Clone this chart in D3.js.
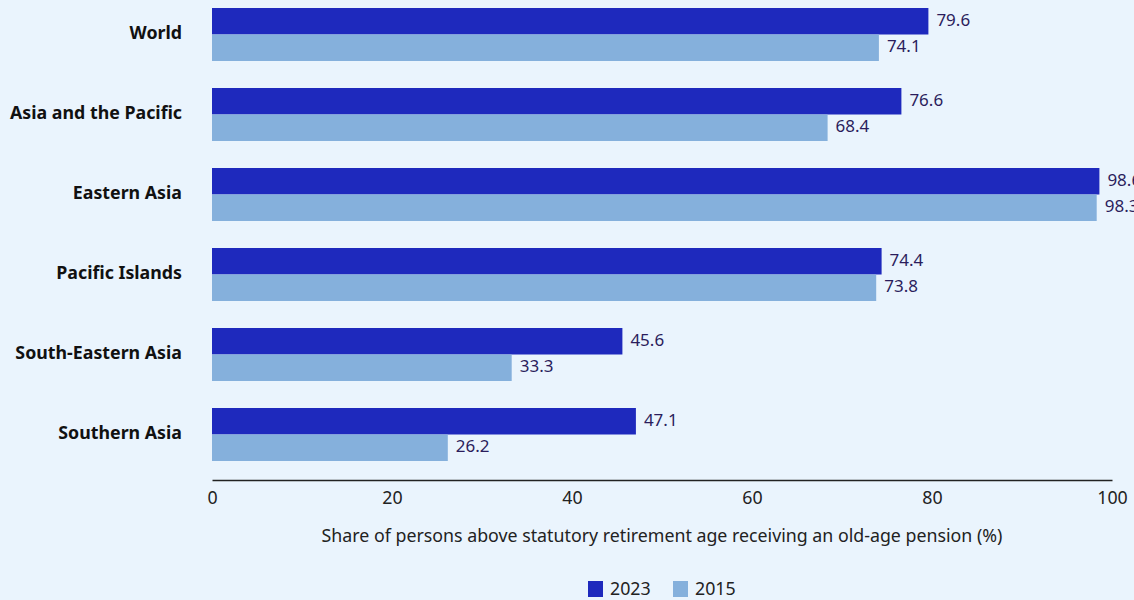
<!DOCTYPE html>
<html lang="en">
	<head>
		<meta charset="utf-8">
		<title>Old-age pension coverage</title>
		<script type="text/javascript" src="https://cdn.jsdelivr.net/npm/d3@7"></script>
		<style>
			body { margin: 0; background: #EAF4FD; }
			text { font-family: "Noto Sans", sans-serif; }
		</style>
	</head>
	<body>
		<script type="text/javascript">

			//
			// Data
			//
			var regions = ["World", "Asia and the Pacific", "Eastern Asia", "Pacific Islands", "South-Eastern Asia", "Southern Asia"];
			var values2023 = [79.6, 76.6, 98.6, 74.4, 45.6, 47.1];
			var values2015 = [74.1, 68.4, 98.3, 73.8, 33.3, 26.2];
			var seriesNames = ["2023", "2015"];
			var xTicks = [0, 20, 40, 60, 80, 100];
			var colors = ["#1E29BD", "#85B0DC"];

			var width = 1134, height = 600;

			var svg = d3.select("body")
				.append("svg")
				.attr("width", width)
				.attr("height", height);

			svg.append("rect")
				.attr("width", width)
				.attr("height", height)
				.attr("fill", "#EAF4FD");

			var x = d3.scaleLinear()
				.domain([0, 100])
				.range([212, 1112]);

			var y = d3.scaleBand()
				.domain(regions)
				.range([8, 461])
				.paddingInner(0.3375)
				.paddingOuter(0);

			var ySub = d3.scaleBand()
				.domain(seriesNames)
				.range([0, y.bandwidth()]);

			var rows = regions.map(function(r, i) {
				return { region: r, values: [
					{ series: "2023", value: values2023[i] },
					{ series: "2015", value: values2015[i] }
				]};
			});

			var group = svg.selectAll("g.region")
				.data(rows)
				.enter()
				.append("g")
				.attr("class", "region")
				.attr("transform", function(d) { return "translate(0," + y(d.region) + ")"; });

			group.selectAll("rect")
				.data(function(d) { return d.values; })
				.enter()
				.append("rect")
				.attr("x", x(0))
				.attr("y", function(d) { return ySub(d.series); })
				.attr("width", function(d) { return x(d.value) - x(0); })
				.attr("height", ySub.bandwidth())
				.attr("fill", function(d, i) { return colors[i]; });

			group.selectAll("text.val")
				.data(function(d) { return d.values; })
				.enter()
				.append("text")
				.attr("class", "val")
				.attr("x", function(d) { return x(d.value) + 8; })
				.attr("y", function(d) { return ySub(d.series) + ySub.bandwidth() / 2 - 1.5; })
				.attr("dy", "0.35em")
				.attr("font-size", 17)
				.attr("fill", "#2B1D5C")
				.text(function(d) { return d.value.toFixed(1); });

			// category labels
			svg.selectAll("text.cat")
				.data(regions)
				.enter()
				.append("text")
				.attr("class", "cat")
				.attr("x", 182)
				.attr("y", function(d) { return y(d) + y.bandwidth() / 2 - 2; })
				.attr("dy", "0.35em")
				.attr("text-anchor", "end")
				.attr("font-size", 17.8)
				.attr("font-weight", "bold")
				.attr("fill", "#111")
				.text(function(d) { return d; });

			// x axis
			var xAxis = d3.axisBottom(x)
				.tickValues(xTicks)
				.tickSize(0)
				.tickPadding(11);

			var axisG = svg.append("g")
				.attr("transform", "translate(0,480)")
				.call(xAxis);
			axisG.select(".domain").attr("stroke", "#222").attr("stroke-width", 1.5);
			axisG.selectAll("text")
				.attr("font-size", 17.8)
				.attr("font-family", "Noto Sans, sans-serif")
				.attr("fill", "#222");

			svg.append("text")
				.attr("x", 662)
				.attr("y", 536)
				.attr("dy", "0.35em")
				.attr("text-anchor", "middle")
				.attr("font-size", 17.8)
				.attr("fill", "#222")
				.text("Share of persons above statutory retirement age receiving an old-age pension (%)");

			// legend
			var legendX = [588, 673];
			var legend = svg.selectAll("g.legend")
				.data(seriesNames)
				.enter()
				.append("g")
				.attr("class", "legend")
				.attr("transform", function(d, i) { return "translate(" + legendX[i] + ",581)"; });

			legend.append("rect")
				.attr("width", 15)
				.attr("height", 16)
				.attr("fill", function(d, i) { return colors[i]; });

			legend.append("text")
				.attr("x", 22)
				.attr("y", 8)
				.attr("dy", "0.35em")
				.attr("font-size", 17.8)
				.attr("fill", "#222")
				.text(function(d) { return d; });

		</script>
	</body>
</html>
